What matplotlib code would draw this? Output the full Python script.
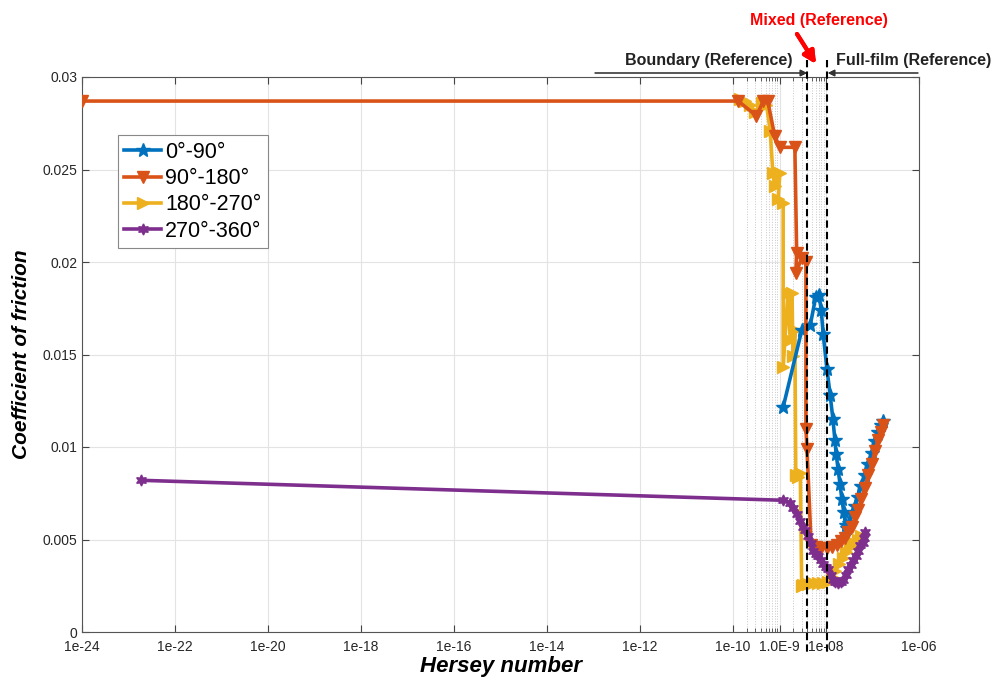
import matplotlib
matplotlib.use('Agg')
import matplotlib.pyplot as plt
import matplotlib.transforms as mtransforms
from matplotlib.ticker import FixedLocator, NullFormatter

plt.rcParams['font.family'] = ['Liberation Sans', 'DejaVu Sans']

# 数据
x_0_90 = [1.20e-9, 3.0e-9, 4.6e-9, 6.0e-9, 7.1e-9, 7.9e-9, 8.7e-9, 1.05e-8, 1.23e-8,
          1.41e-8, 1.55e-8, 1.66e-8, 1.82e-8, 2.0e-8, 2.19e-8, 2.4e-8, 2.63e-8, 2.82e-8,
          3.16e-8, 3.63e-8, 4.17e-8, 4.9e-8, 5.75e-8, 6.9e-8, 8.1e-8, 9.8e-8, 1.12e-7,
          1.32e-7, 1.51e-7, 1.70e-7]
y_0_90 = [0.01216, 0.0163, 0.0166, 0.0181, 0.0182, 0.0174, 0.0161, 0.0142, 0.0128,
          0.0115, 0.0104, 0.0096, 0.0088, 0.0080, 0.0072, 0.0065, 0.0058, 0.0056,
          0.0059, 0.0064, 0.0068, 0.0073, 0.0079, 0.0085, 0.0091, 0.0097, 0.0103,
          0.0108, 0.0112, 0.0114]

x_90_180 = [1e-24, 1.29e-10, 3.2e-10, 4.5e-10, 5.6e-10, 7.9e-10, 1.02e-9, 2.14e-9, 2.34e-9,
            2.24e-9, 3.0e-9, 3.7e-9, 3.7e-9, 3.9e-9, 4.8e-9, 6.0e-9, 7.9e-9, 1.05e-8,
            1.35e-8, 1.74e-8, 2.14e-8, 2.57e-8, 3.0e-8, 3.63e-8, 4.17e-8, 4.9e-8, 5.75e-8,
            6.9e-8, 8.1e-8, 9.8e-8, 1.12e-7, 1.32e-7, 1.51e-7, 1.70e-7]
y_90_180 = [0.0287, 0.0287, 0.0279, 0.0287, 0.0287, 0.0268, 0.0262, 0.0262, 0.0205,
            0.0194, 0.0202, 0.0200, 0.0110, 0.0099, 0.0047, 0.0046, 0.00455, 0.00454,
            0.0046, 0.0047, 0.0049, 0.0051, 0.0054, 0.0057, 0.0062, 0.0066, 0.0072,
            0.0078, 0.0085, 0.0091, 0.0098, 0.0104, 0.0108, 0.0112]

x_180_270 = [1.41e-10, 1.82e-10, 2.34e-10, 2.95e-10, 4.17e-10, 5.25e-10, 6.3e-10, 7.2e-10,
             7.9e-10, 1.02e-9, 9.3e-10, 1.20e-9, 1.20e-9, 1.51e-9, 1.70e-9, 1.86e-9, 1.95e-9,
             2.14e-9, 2.24e-9, 2.5e-9, 2.8e-9, 3.0e-9, 3.2e-9, 4.2e-9, 5.2e-9, 6.8e-9,
             8.7e-9, 1.1e-8, 1.32e-8, 1.58e-8, 1.9e-8, 2.3e-8, 2.75e-8, 3.3e-8, 4.0e-8,
             4.8e-8, 5.75e-8]
y_180_270 = [0.0288, 0.0287, 0.0285, 0.0281, 0.0286, 0.0285, 0.0271, 0.0248,
             0.0241, 0.0248, 0.0234, 0.0232, 0.0143, 0.0183, 0.0158, 0.0183, 0.0149,
             0.0163, 0.0085, 0.0084, 0.0086, 0.0025, 0.00254, 0.0026, 0.00265, 0.00265,
             0.00265, 0.0027, 0.0030, 0.0033, 0.0037, 0.0040, 0.0043, 0.0046, 0.0048,
             0.0050, 0.0052]

x_270_360 = [1.86e-23, 1.20e-9, 1.70e-9, 2.0e-9, 2.34e-9, 2.75e-9, 3.2e-9, 3.6e-9, 4.1e-9,
             4.7e-9, 5.2e-9, 6.0e-9, 6.8e-9, 7.8e-9, 8.7e-9, 9.8e-9, 1.1e-8, 1.26e-8,
             1.41e-8, 1.58e-8, 1.82e-8, 2.1e-8, 2.34e-8, 2.63e-8, 2.95e-8, 3.4e-8, 3.8e-8,
             4.4e-8, 4.9e-8, 5.5e-8, 6.2e-8, 6.5e-8, 6.8e-8]
y_270_360 = [0.0082, 0.00712, 0.0070, 0.0067, 0.0064, 0.0060, 0.0057, 0.0055, 0.0052,
             0.0048, 0.0044, 0.0042, 0.0041, 0.0039, 0.0037, 0.0035, 0.0034, 0.0031,
             0.0028, 0.0027, 0.00265, 0.0027, 0.0028, 0.0031, 0.0034, 0.0036, 0.0039,
             0.0041, 0.0044, 0.0047, 0.0048, 0.0051, 0.0054]

labels = ['0°-90°', '90°-180°', '180°-270°', '270°-360°']
colors = ['#0072BD', '#D95319', '#EDB120', '#7E2F8E']

x_ticks = [1e-24, 1e-22, 1e-20, 1e-18, 1e-16, 1e-14, 1e-12, 1e-10, 1e-9, 1e-8, 1e-6]
x_ticklabels = ['1e-24', '1e-22', '1e-20', '1e-18', '1e-16', '1e-14', '1e-12', '1e-10',
                '1.0E-9', '1e-08', '1e-06']
y_ticks = [0, 0.005, 0.01, 0.015, 0.02, 0.025, 0.03]
y_ticklabels = ['0', '0.005', '0.01', '0.015', '0.02', '0.025', '0.03']

# 润滑区域分界 (Boundary / Mixed / Full-film)
regime_bounds = [3.9e-9, 1.05e-8]

W, H = 993, 679
fig = plt.figure(figsize=(W / 100, H / 100), dpi=100)
ax = fig.add_axes([82 / W, 1 - 632 / H, 837 / W, 555 / H])


def fx(x):
    return x / W


def fy(y):
    return 1 - y / H


lw = 2.6
ax.plot(x_0_90, y_0_90, color=colors[0], lw=lw, marker='*', ms=10, label=labels[0], zorder=3)
ax.plot(x_90_180, y_90_180, color=colors[1], lw=lw, marker='v', ms=8, label=labels[1], zorder=4)
ax.plot(x_180_270, y_180_270, color=colors[2], lw=lw, marker='>', ms=8, label=labels[2], zorder=2)
ax.plot(x_270_360, y_270_360, color=colors[3], lw=lw, marker=(6, 1, 0), ms=8, label=labels[3], zorder=5)

ax.set_xscale('log')
ax.set_xlim(1e-24, 1e-6)
ax.set_ylim(0, 0.03)
ax.set_xticks(x_ticks)
ax.set_xticklabels(x_ticklabels)
ax.set_yticks(y_ticks)
ax.set_yticklabels(y_ticklabels)

# 只在 1e-10 ~ 1e-8 之间有次刻度
minor = [k * 10.0 ** e for e in (-10, -9) for k in range(2, 10)]
ax.xaxis.set_minor_locator(FixedLocator(minor))
ax.xaxis.set_minor_formatter(NullFormatter())

ax.grid(which='major', color='#e3e3e3', lw=0.8)
ax.grid(which='minor', axis='x', color='#c8c8c8', lw=0.7, ls=':')
ax.set_axisbelow(True)
ax.tick_params(which='both', direction='in', top=True, right=True, colors='#444444',
               labelcolor='#262626', labelsize=10)
ax.tick_params(which='major', length=5)
ax.tick_params(which='minor', length=3)
ax.tick_params(axis='x', pad=6)
for s in ax.spines.values():
    s.set_color('#555555')
    s.set_linewidth(0.8)

ax.set_xlabel('Hersey number', fontsize=16, fontweight='bold', fontstyle='italic', labelpad=1)
ax.set_ylabel('Coefficient of friction', fontsize=15, fontweight='bold', fontstyle='italic',
              labelpad=8)

leg = ax.legend(loc='upper left', bbox_to_anchor=(0.043, 0.895), fontsize=15.5,
                fancybox=False, framealpha=1, edgecolor='#888888', handlelength=1.7,
                handletextpad=0.2, labelspacing=0.25, borderpad=0.3, borderaxespad=0,
                numpoints=1)
leg.get_frame().set_linewidth(0.8)

# 分界虚线
trans = mtransforms.blended_transform_factory(ax.transData, fig.transFigure)
for xb in regime_bounds:
    ax.plot([xb, xb], [fy(60), fy(652)], transform=trans, color='black', lw=1.5,
            ls=(0, (3.5, 2)), clip_on=False, zorder=6)

# 标注
fig.text(fx(819), fy(21), 'Mixed (Reference)', color='#ff0000', fontsize=11.5,
         fontweight='bold', ha='center', va='center')
fig.text(fx(709), fy(60), 'Boundary (Reference)', color='#222222', fontsize=11.5,
         fontweight='bold', ha='center', va='center')
fig.text(fx(914), fy(60), 'Full-film (Reference)', color='#222222', fontsize=11.5,
         fontweight='bold', ha='center', va='center')
fig.add_artist(plt.annotate('', xy=(fx(807), fy(73)), xytext=(fx(595), fy(73)),
                            xycoords='figure fraction', textcoords='figure fraction',
                            arrowprops=dict(arrowstyle='-|>', color='#333333', lw=0.8,
                                            mutation_scale=10, shrinkA=0, shrinkB=0)))
fig.add_artist(plt.annotate('', xy=(fx(828), fy(73)), xytext=(fx(918), fy(73)),
                            xycoords='figure fraction', textcoords='figure fraction',
                            arrowprops=dict(arrowstyle='-|>', color='#333333', lw=0.8,
                                            mutation_scale=10, shrinkA=0, shrinkB=0)))
fig.add_artist(plt.annotate('', xy=(fx(816), fy(64)), xytext=(fx(797), fy(34)),
                            xycoords='figure fraction', textcoords='figure fraction',
                            arrowprops=dict(arrowstyle='-|>', color='#ff0000', lw=3,
                                            mutation_scale=18, shrinkA=0, shrinkB=0)))

plt.savefig('out.png', dpi=100)
plt.close()
